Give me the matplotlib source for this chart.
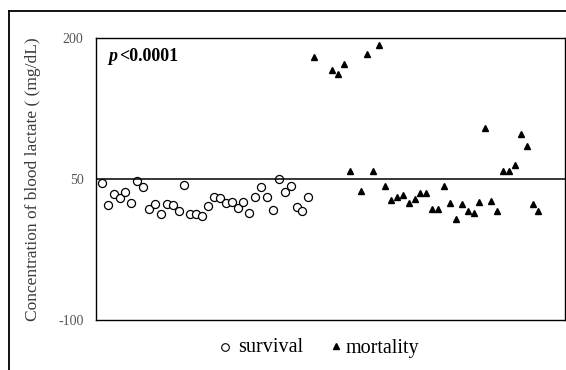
import matplotlib
matplotlib.use('Agg')
import matplotlib.pyplot as plt
from matplotlib.lines import Line2D

# sample index (position along x) and blood lactate value (mg/dL)
survival_x = list(range(1, 37))
survival_y = [46, 22, 34, 30, 36, 25, 48, 42, 18, 23, 13, 23, 22, 16, 44, 13, 13, 11,
              21, 31, 30, 24, 26, 19, 26, 14, 31, 41, 31, 17, 50, 36, 43, 20, 16, 31]

mortality_x = [37, 40, 41, 42, 43, 45, 46, 47, 48, 49, 50, 51, 52, 53, 54, 55, 56, 57,
               58, 59, 60, 61, 62, 63, 64, 65, 66, 67, 68, 69, 70, 71, 72, 73, 74, 75]
mortality_y = [180, 166, 162, 172, 58, 37, 183, 58, 193, 43, 28, 31, 33, 24, 29, 35, 35, 18,
               18, 43, 25, 7, 23, 16, 14, 26, 104, 27, 16, 58, 59, 65, 98, 85, 23, 16]

yticks = [-100, 50, 200]
cutoff = 50

plt.rcParams['font.family'] = ['Liberation Serif', 'DejaVu Serif']
plt.rcParams['axes.unicode_minus'] = False

fig = plt.figure(figsize=(5.66, 3.70), dpi=100)
ax = fig.add_axes([96/566, 1-320/370, (565-96)/566, (320-38)/370])

ax.plot(survival_x, survival_y, 'o', ms=5.8, mfc='white', mec='black', mew=0.9, ls='none')
ax.plot(mortality_x, mortality_y, '^', ms=5.0, color='black', ls='none')
ax.axhline(cutoff, color='black', lw=1.1)

ax.set_xlim(0, 79.5)
ax.set_ylim(-100, 200)
ax.set_xticks([])
ax.set_yticks(yticks)
ax.tick_params(axis='y', length=0, pad=9, labelsize=10, labelcolor='#555555')
for s in ax.spines.values():
    s.set_linewidth(1.0)

ax.set_ylabel('Concentration of blood lactate ( (mg/dL)', fontsize=12.5, color='#3a3a3a', labelpad=12)

# p value
t1 = ax.text(0.027, 0.933, 'p', transform=ax.transAxes, fontsize=13, fontweight='bold',
             fontstyle='italic', va='center', ha='left')
ax.annotate('<0.0001', xy=(1, 0.5), xycoords=t1, xytext=(1, 0), textcoords='offset points',
            fontsize=13, fontweight='bold', va='center', ha='left')

# legend below the plot
fig.add_artist(Line2D([225/566], [1-347/370], marker='o', ms=5.5, mfc='white', mec='black', mew=0.8))
fig.text(238/566, 1-348/370, 'survival', fontsize=14.5, va='center', ha='left')
fig.add_artist(Line2D([336/566], [1-346/370], marker='^', ms=4, color='black'))
fig.text(346/566, 1-348/370, 'mortality', fontsize=14.5, va='center', ha='left')

# outer frame (top and left edges)
fig.add_artist(Line2D([9/566, 1], [1-11/370, 1-11/370], color='black', lw=1.3))
fig.add_artist(Line2D([9/566, 9/566], [1-11/370, 0], color='black', lw=1.3))

plt.savefig('out.png', dpi=100)
